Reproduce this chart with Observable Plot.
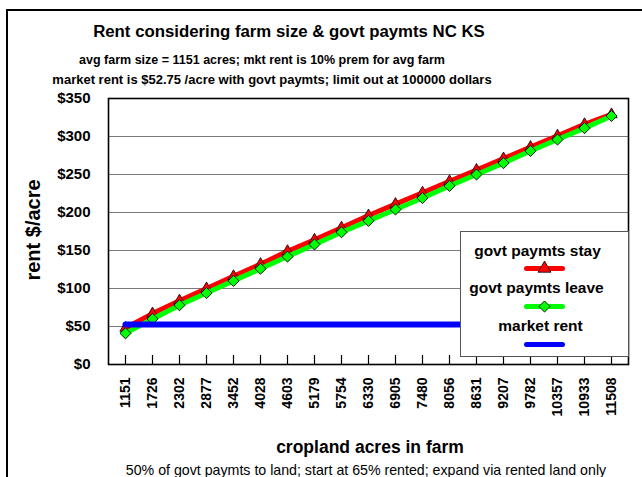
<!DOCTYPE html>
<html>
<head>
<meta charset="utf-8">
<script src="https://cdn.jsdelivr.net/npm/d3@7"></script>
<script src="https://cdn.jsdelivr.net/npm/@observablehq/plot@0.6"></script>
<style>
  html, body { margin: 0; padding: 0; background: #fff; }
  #wrap { position: relative; width: 642px; height: 477px; overflow: hidden; font-family: "Liberation Sans", Arial, sans-serif; }
  #wrap > svg { position: absolute; left: 0; top: 0; }
</style>
</head>
<body>
<div id="wrap"></div>
<script>
// ---- data ----
const acres = ["1151","1726","2302","2877","3452","4028","4603","5179","5754","6330","6905","7480","8056","8631","9207","9782","10357","10933","11508"];
const stay = [48, 67, 84, 100, 116, 132, 149, 164, 180, 196, 211, 226, 241, 256, 271, 286, 301, 316, 329];
const leave = [41, 60, 78, 94, 110, 126, 142, 158, 174, 189, 204, 219, 235, 250, 265, 281, 296, 311, 327];
const market = [52.75, 52.75, 52.75, 52.75, 52.75, 52.75, 52.75, 52.75, 52.75, 52.75, 52.75, 52.75, 52.75, 52.75, 52.75, 52.75, 52.75, 52.75, 52.75];
const yTicks = [0, 50, 100, 150, 200, 250, 300, 350];
const seriesNames = ["govt paymts stay", "govt paymts leave", "market rent"];
const titleText = "Rent considering farm size & govt paymts NC KS";
const subtitle1 = "avg farm size = 1151 acres; mkt rent is 10% prem for avg farm";
const subtitle2 = "market rent is $52.75 /acre with govt paymts; limit out at 100000 dollars";
const xTitle = "cropland acres in farm";
const yTitle = "rent $/acre";
const footer = "50% of govt paymts to land; start at 65% rented; expand via rented land only";

const table = acres.map((a, i) => ({acres: a, stay: stay[i], leave: leave[i], market: market[i]}));

const W = 642, H = 477;
const mL = 108, mR = 14, mT = 98, mB = 113;

const chart = Plot.plot({
  width: W, height: H,
  marginLeft: mL, marginRight: mR, marginTop: mT, marginBottom: mB,
  style: {fontFamily: "'Liberation Sans', Arial, sans-serif", background: "transparent", color: "#000"},
  x: {type: "point", domain: acres, padding: 0.5},
  y: {domain: [0, 350]},
  marks: [
    Plot.gridY(yTicks, {stroke: "#7a7a7a", strokeOpacity: 1, strokeWidth: 1.2}),
    Plot.tickX(acres, {x: d => d, insetTop: (H - mT - mB) - 9, stroke: "#000", strokeWidth: 1.2}),
    Plot.line(table, {x: "acres", y: "stay", stroke: "#ff0000", strokeWidth: 5}),
    Plot.dot(table, {x: "acres", y: "stay", symbol: "triangle", r: 4.2, fill: "#ff0000", stroke: "#000", strokeWidth: 0.8}),
    Plot.line(table, {x: "acres", y: "leave", stroke: "#00ff00", strokeWidth: 5}),
    Plot.dot(table, {x: "acres", y: "leave", symbol: "diamond2", r: 5, fill: "#00ff00", stroke: "#000", strokeWidth: 0.9}),
    Plot.line(table, {x: "acres", y: "market", stroke: "#0000ff", strokeWidth: 6, strokeLinecap: "round"}),
    Plot.frame({stroke: "#000", strokeWidth: 1.6}),
    Plot.axisY({ticks: yTicks, tickFormat: d => "$" + d, tickSize: 0, tickPadding: 18, fontSize: 15, fontWeight: "bold", label: null}),
    Plot.axisX({tickRotate: -90, tickSize: 0, tickPadding: 13, fontSize: 14, fontWeight: "bold", label: null})
  ]
});
document.getElementById("wrap").appendChild(chart);

// ---- overlay: border, titles, legend ----
const ov = d3.select("#wrap").append("svg").attr("width", W).attr("height", H)
  .style("font-family", "'Liberation Sans', Arial, sans-serif");

ov.append("path").attr("d", `M7,${H} L7,10 L${W},10`).attr("fill", "none").attr("stroke", "#000").attr("stroke-width", 2);

function txt(s, x, y, size, weight, rot) {
  const t = ov.append("text").text(s)
    .attr("text-anchor", "middle").attr("dominant-baseline", "central")
    .attr("font-size", size).attr("font-weight", weight).attr("fill", "#000");
  if (rot) t.attr("transform", `translate(${x},${y}) rotate(${rot})`);
  else t.attr("x", x).attr("y", y);
  return t;
}
txt(titleText, 289, 31, 16.8, "bold");
txt(subtitle1, 262, 60, 12.5, "bold");
txt(subtitle2, 272, 79, 13, "bold");
txt(xTitle, 370, 447, 17.5, "bold");
txt(yTitle, 33, 230, 20, "bold", -90);
txt(footer, 366, 470, 14.2, "normal");

// legend
const lg = ov.append("g").attr("transform", "translate(460.5,231.5)");
lg.append("rect").attr("width", 168).attr("height", 125).attr("fill", "#fff").attr("stroke", "#555").attr("stroke-width", 1);
const colors = ["#ff0000", "#00ff00", "#0000ff"];
const textY = [19, 56, 94];
const swY = [37, 75, 113];
const textX = [77, 76, 80];
seriesNames.forEach((n, i) => {
  lg.append("text").text(n).attr("x", textX[i]).attr("y", textY[i])
    .attr("text-anchor", "middle").attr("dominant-baseline", "central")
    .attr("font-size", 15.5).attr("font-weight", "bold");
  lg.append("line").attr("x1", 66).attr("x2", 102).attr("y1", swY[i]).attr("y2", swY[i])
    .attr("stroke", colors[i]).attr("stroke-width", 5).attr("stroke-linecap", "round");
});
lg.append("path").attr("transform", `translate(84,${swY[0]})`)
  .attr("d", d3.symbol(d3.symbolTriangle, Math.PI * 4.8 * 4.8)())
  .attr("fill", "#ff0000").attr("stroke", "#000").attr("stroke-width", 0.8);
lg.append("path").attr("transform", `translate(84,${swY[1]})`)
  .attr("d", d3.symbol(d3.symbolDiamond2, Math.PI * 5 * 5)())
  .attr("fill", "#00ff00").attr("stroke", "#000").attr("stroke-width", 0.9);
</script>
</body>
</html>
